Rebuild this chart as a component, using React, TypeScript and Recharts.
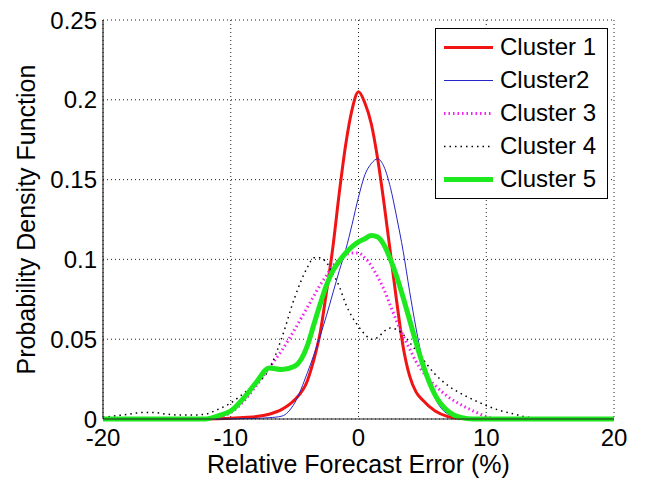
import React from 'react';
import { LineChart, Line, XAxis, YAxis, CartesianGrid, Legend } from 'recharts';

const FONT = '"Liberation Sans", Arial, Helvetica, sans-serif';

// relative forecast error (%) grid shared by all clusters
const errorPct = [
  -20, -19, -18, -17, -16, -15, -14, -13, -12, -11, -10, -9, -8, -7, -6, -5, -4,
  -3.5, -3, -2.5, -2, -1.5, -1, -0.5, 0, 0.5, 1, 1.5, 2, 2.5, 3, 3.5, 4, 4.5, 5,
  6, 7, 8, 9, 10, 11, 12, 13, 14, 15, 16, 17, 18, 19, 20,
];

const N8 = [null, null, null, null, null, null, null, null];

const cluster1 = [
  ...N8,
  0, 0.0002, 0.0005, 0.001, 0.0015, 0.003, 0.006, 0.012, 0.024,
  0.037, 0.054, 0.08, 0.108, 0.142, 0.172, 0.194, 0.205, 0.198, 0.185, 0.163, 0.135, 0.104, 0.073, 0.045, 0.027, 0.017, 0.012,
  0.005, 0.0015, 0.0003, 0, 0, 0, 0,
  ...N8,
];

const cluster2 = [
  ...N8,
  0, 0, 0.0001, 0.0002, 0.0004, 0.0008, 0.0018, 0.01, 0.029,
  0.04, 0.052, 0.065, 0.079, 0.093, 0.106, 0.122, 0.139, 0.153, 0.16, 0.163, 0.158, 0.145, 0.126, 0.105, 0.08, 0.057, 0.037,
  0.013, 0.003, 0.0005, 0, 0, 0, 0,
  ...N8,
];

const cluster3 = [
  ...N8,
  0, 0.001, 0.004, 0.011, 0.021, 0.032, 0.043, 0.056, 0.07,
  0.077, 0.084, 0.09, 0.096, 0.1, 0.103, 0.104, 0.104, 0.101, 0.096, 0.089, 0.081, 0.071, 0.061, 0.052, 0.044, 0.036, 0.03,
  0.021, 0.014, 0.009, 0.005, 0.0015, 0, 0,
  ...N8,
];

const cluster4 = [
  0.001, 0.002, 0.003, 0.004, 0.004, 0.003, 0.0025, 0.0025, 0.003, 0.006, 0.01, 0.016, 0.022, 0.031, 0.051, 0.076, 0.095,
  0.101, 0.101, 0.098, 0.091, 0.083, 0.072, 0.064, 0.058, 0.053, 0.05, 0.051, 0.055, 0.057, 0.056, 0.053, 0.048, 0.043, 0.038,
  0.028, 0.021, 0.016, 0.012, 0.0085, 0.0055, 0.0035, 0.0015, 0.0005, 0,
  null, null, null, null, null,
];

const cluster5 = [
  0, 0, 0, 0, 0, 0, 0, 0, 0, 0.002, 0.005, 0.013, 0.023, 0.032, 0.031, 0.033, 0.046,
  0.059, 0.072, 0.084, 0.093, 0.099, 0.104, 0.108, 0.111, 0.113, 0.115, 0.114, 0.109, 0.1, 0.089, 0.076, 0.062, 0.048, 0.035,
  0.015, 0.005, 0.001, 0, 0, 0, 0, 0, 0, 0, 0, 0, 0, 0, 0,
];

const seriesNames = ['Cluster 1', 'Cluster2', 'Cluster 3', 'Cluster 4', 'Cluster 5'];
const xTicks = [-20, -10, 0, 10, 20];
const yTicks = [0, 0.05, 0.1, 0.15, 0.2, 0.25];

const data = errorPct.map((x, i) => ({
  x,
  c1: cluster1[i],
  c2: cluster2[i],
  c3: cluster3[i],
  c4: cluster4[i],
  c5: cluster5[i],
}));

const lineStyles = [
  { key: 'c1', color: '#f01414', width: 3, dash: undefined },
  { key: 'c2', color: '#2626c8', width: 1, dash: undefined },
  { key: 'c3', color: '#f020f0', width: 3, dash: '1.5 3' },
  { key: 'c4', color: '#000000', width: 1.5, dash: '1.5 4' },
  { key: 'c5', color: '#1ee81e', width: 5, dash: undefined },
];

const renderLegend = () => (
  <div
    style={{
      width: 171,
      padding: '1.5px 0 2.5px 0',
      border: '1px solid #000',
      background: '#fff',
      fontFamily: FONT,
      fontSize: 24,
      color: '#000',
    }}
  >
    {lineStyles.map((s, i) => (
      <div key={s.key} style={{ height: 33, display: 'flex', alignItems: 'center' }}>
        <svg width={58} height={33} style={{ flex: 'none' }}>
          <line
            x1={8}
            x2={57}
            y1={16.5}
            y2={16.5}
            stroke={s.color}
            strokeWidth={s.width}
            strokeDasharray={s.dash}
          />
        </svg>
        <span style={{ marginLeft: 6, whiteSpace: 'nowrap' }}>{seriesNames[i]}</span>
      </div>
    ))}
  </div>
);

export default function App() {
  return (
    <div style={{ position: 'absolute', left: 0, top: 0, width: 647, height: 480, background: '#fff' }}>
      <LineChart width={647} height={480} data={data} margin={{ top: 20, right: 33, bottom: 0, left: 0 }}>
        <CartesianGrid stroke="#222" strokeDasharray="1 3" />
        <XAxis
          type="number"
          dataKey="x"
          domain={[-20, 20]}
          ticks={xTicks}
          height={61}
          tickLine={false}
          tickSize={0}
          tickMargin={10}
          axisLine={{ stroke: '#222' }}
          tick={{ fill: '#000', fontSize: 24, fontFamily: FONT }}
          label={{
            value: 'Relative Forecast Error (%)',
            position: 'insideBottom',
            offset: 7,
            style: { fill: '#000', fontSize: 25, fontFamily: FONT },
          }}
        />
        <YAxis
          type="number"
          domain={[0, 0.25]}
          ticks={yTicks}
          width={103}
          tickLine={false}
          tickSize={0}
          tickMargin={6}
          axisLine={{ stroke: '#000' }}
          tick={{ fill: '#000', fontSize: 24, fontFamily: FONT }}
          label={{
            value: 'Probability Density Function',
            angle: -90,
            position: 'insideLeft',
            offset: 26,
            style: { textAnchor: 'middle', fill: '#000', fontSize: 25, fontFamily: FONT },
          }}
        />
        {lineStyles.map((s) => (
          <Line
            key={s.key}
            dataKey={s.key}
            type="monotone"
            stroke={s.color}
            strokeWidth={s.width}
            strokeDasharray={s.dash}
            dot={false}
            activeDot={false}
            isAnimationActive={false}
          />
        ))}
        <Legend
          layout="horizontal"
          align="center"
          verticalAlign="middle"
          content={renderLegend}
          wrapperStyle={{ top: 28, left: 435, width: 'auto', height: 'auto' }}
        />
      </LineChart>
    </div>
  );
}
